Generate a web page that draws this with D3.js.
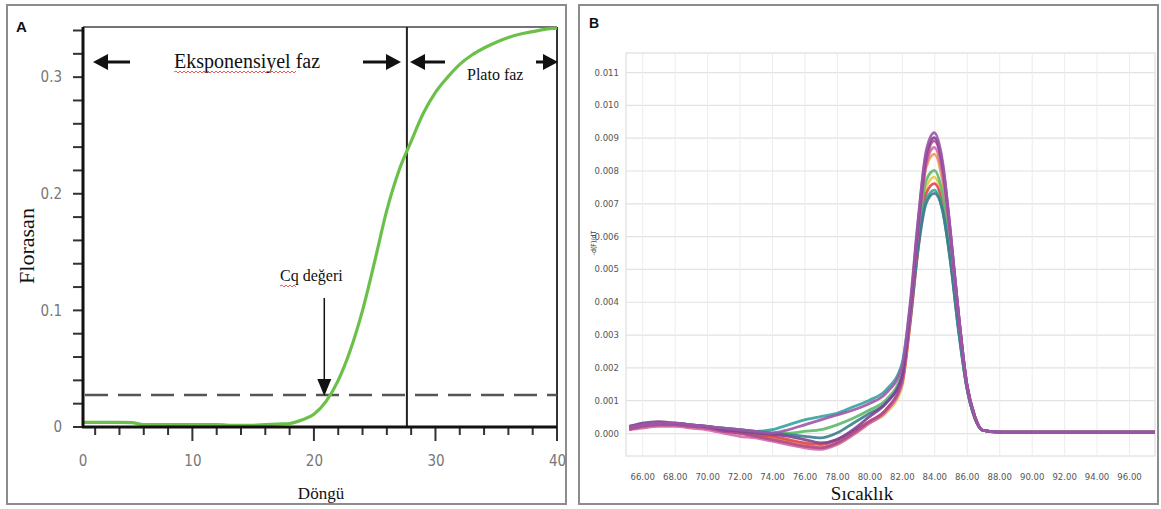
<!DOCTYPE html>
<html>
<head>
<meta charset="utf-8">
<script src="https://cdn.jsdelivr.net/npm/d3@7"></script>
<style>
  body { margin: 0; background: #fff; }
  svg { display: block; }
</style>
</head>
<body>
<div id="chart"></div>
<script>
// ---- panel A : amplification curve (Florasan vs Döngü)
var cycles = [1, 2, 3, 4, 5, 6, 7, 8, 9, 10, 11, 12, 13, 14, 15, 16, 17, 18, 19, 20,
  21, 22, 23, 24, 25, 26, 27, 28, 29, 30, 31, 32, 33, 34, 35, 36, 37, 38, 39, 40];
var fluorescence = [0.004, 0.004, 0.004, 0.004, 0.0038, 0.002, 0.002, 0.002, 0.002, 0.002,
  0.002, 0.002, 0.0015, 0.0015, 0.0015, 0.002, 0.0025, 0.003, 0.006, 0.011,
  0.022, 0.04, 0.066, 0.1, 0.142, 0.186, 0.22, 0.245, 0.269, 0.287,
  0.3, 0.311, 0.319, 0.325, 0.33, 0.334, 0.337, 0.339, 0.341, 0.342];
var threshold = 0.0274;
var phaseBoundary = 27.65;   // cycle of the vertical separator
var cqCycle = 21.1;
var yLabelsA = [0, 0.1, 0.2, 0.3];
var xLabelsA = [10, 20, 30, 40];

// ---- panel B : melt curves (-d(F)/dT, in 1e-3 units, vs Sıcaklık)
var temps = [65.2, 66, 67, 68, 69, 70, 71, 72, 73, 74, 75, 76, 77, 78, 79, 80, 81, 82,
  82.5, 83, 83.5, 84, 84.5, 85, 85.5, 86, 86.5, 87, 88, 90, 94, 97.6];
var meltYellow = [0.15, 0.2, 0.25, 0.25, 0.2, 0.15, 0.05, 0, -0.05, -0.15, -0.25, -0.35, -0.45, -0.35, -0.05, 0.3, 0.6, 1.4,
  3.3, 5.7, 7.5, 7.8, 7.1, 5.4, 3.3, 1.4, 0.45, 0.08, 0.03, 0.03, 0.03, 0.03];
var meltOrange = [0.15, 0.2, 0.25, 0.25, 0.2, 0.15, 0.05, 0, -0.1, -0.15, -0.25, -0.35, -0.45, -0.3, -0.05, 0.3, 0.65, 1.5,
  3.5, 6.1, 8.1, 8.5, 7.7, 5.8, 3.5, 1.5, 0.5, 0.08, 0.03, 0.03, 0.03, 0.03];
var meltRed = [0.15, 0.2, 0.25, 0.25, 0.2, 0.15, 0.05, 0, -0.05, -0.1, -0.2, -0.3, -0.35, -0.2, 0.05, 0.35, 0.7, 1.5,
  3.3, 5.6, 7.3, 7.6, 7.0, 5.3, 3.2, 1.4, 0.45, 0.08, 0.03, 0.03, 0.03, 0.03];
var meltGreen = [0.15, 0.2, 0.25, 0.25, 0.2, 0.15, 0.1, 0.05, 0, 0, 0, 0.05, 0.1, 0.25, 0.45, 0.7, 1.0, 1.8,
  3.6, 6.0, 7.7, 8.0, 7.3, 5.5, 3.3, 1.4, 0.45, 0.08, 0.03, 0.03, 0.03, 0.03];
var meltTeal = [0.2, 0.25, 0.3, 0.3, 0.25, 0.2, 0.15, 0.1, 0.05, 0.1, 0.25, 0.4, 0.5, 0.6, 0.8, 1.0, 1.3, 2.1,
  3.8, 5.8, 7.1, 7.4, 6.8, 5.2, 3.1, 1.4, 0.45, 0.08, 0.03, 0.03, 0.03, 0.03];
var meltDarkTeal = [0.2, 0.25, 0.3, 0.3, 0.25, 0.2, 0.15, 0.1, 0.05, 0, -0.05, -0.1, -0.15, 0, 0.3, 0.6, 0.9, 1.7,
  3.4, 5.6, 7.0, 7.3, 6.8, 5.2, 3.1, 1.4, 0.45, 0.08, 0.03, 0.03, 0.03, 0.03];
var meltPink = [0.1, 0.15, 0.2, 0.2, 0.15, 0.1, 0, -0.1, -0.15, -0.25, -0.35, -0.45, -0.5, -0.35, -0.05, 0.3, 0.65, 1.5,
  3.5, 6.2, 8.2, 8.7, 7.9, 5.9, 3.5, 1.5, 0.5, 0.08, 0.03, 0.03, 0.03, 0.03];
var meltMagenta = [0.1, 0.2, 0.25, 0.25, 0.2, 0.15, 0.05, 0, -0.1, -0.2, -0.3, -0.4, -0.45, -0.3, 0, 0.35, 0.7, 1.6,
  3.6, 6.2, 8.3, 8.9, 8.1, 6.0, 3.6, 1.5, 0.5, 0.08, 0.03, 0.03, 0.03, 0.03];
var meltViolet = [0.2, 0.3, 0.35, 0.3, 0.25, 0.2, 0.1, 0.05, 0, -0.05, -0.1, -0.2, -0.3, -0.2, 0.1, 0.5, 0.9, 1.7,
  3.7, 6.4, 8.5, 9.0, 8.2, 6.1, 3.6, 1.5, 0.5, 0.08, 0.03, 0.03, 0.03, 0.03];
var meltPurple = [0.2, 0.25, 0.3, 0.3, 0.25, 0.2, 0.15, 0.1, 0.05, 0, 0.1, 0.25, 0.4, 0.55, 0.7, 0.9, 1.2, 2.0,
  3.9, 6.5, 8.6, 9.15, 8.3, 6.1, 3.6, 1.5, 0.5, 0.08, 0.03, 0.03, 0.03, 0.03];
var yTicksB = [0, 1, 2, 3, 4, 5, 6, 7, 8, 9, 10, 11];
var xTicksB = [66, 68, 70, 72, 74, 76, 78, 80, 82, 84, 86, 88, 90, 92, 94, 96];

var meltSeries = [
  {values: meltYellow, color: '#e8c64a'},
  {values: meltOrange, color: '#f09a48'},
  {values: meltRed, color: '#e0474c'},
  {values: meltGreen, color: '#5db96a'},
  {values: meltTeal, color: '#35a3a0'},
  {values: meltDarkTeal, color: '#3b7d8c'},
  {values: meltPink, color: '#d46aa8'},
  {values: meltMagenta, color: '#b04a8e'},
  {values: meltViolet, color: '#7e4396'},
  {values: meltPurple, color: '#9d56a8'}
];

var svg = d3.select('#chart').append('svg')
  .attr('width', 1161)
  .attr('height', 509);

var serif = '"Liberation Serif", "Times New Roman", serif';
var narrow = '"Liberation Sans Narrow", "DejaVu Sans Condensed", "Liberation Sans", sans-serif';

// outer panel borders
svg.append('rect').attr('x', 7).attr('y', 5).attr('width', 559).attr('height', 499)
  .attr('fill', 'none').attr('stroke', '#8c8c8c').attr('stroke-width', 2);
svg.append('rect').attr('x', 579).attr('y', 5).attr('width', 579).attr('height', 499)
  .attr('fill', 'none').attr('stroke', '#8c8c8c').attr('stroke-width', 2);

// ================= panel A =================
var xA = d3.scaleLinear().domain([1, 40]).range([83, 557]);
var yA = d3.scaleLinear().domain([0, 0.343]).range([427, 27]);
var gA = svg.append('g');

// tick marks (every 0.02 on y, every 2 cycles on x)
var yTickVals = d3.range(0, 0.345, 0.02);
var xTickVals = d3.range(2, 41, 2);
gA.selectAll('line.ytick')
  .data(yTickVals)
  .enter()
  .append('line')
  .classed('ytick', true)
  .attr('x1', xA(1) - 10).attr('x2', xA(1))
  .attr('y1', function(d) { return yA(d); })
  .attr('y2', function(d) { return yA(d); })
  .attr('stroke', '#333').attr('stroke-width', 2);
gA.selectAll('line.xtick')
  .data(xTickVals)
  .enter()
  .append('line')
  .classed('xtick', true)
  .attr('x1', function(d) { return xA(d); })
  .attr('x2', function(d) { return xA(d); })
  .attr('y1', yA(0))
  .attr('y2', function(d) { return yA(0) + (d % 10 == 0 ? 14 : 8); })
  .attr('stroke', '#333').attr('stroke-width', 2);

// labels
var yLabelAxis = d3.axisLeft(yA).tickValues(yLabelsA).tickSize(0).tickPadding(21)
  .tickFormat(function(d) { return d == 0 ? '0' : d3.format('.1f')(d); });
gA.append('g').attr('transform', 'translate(83,0)').call(yLabelAxis)
  .call(function(g) { g.select('.domain').remove(); })
  .selectAll('text').attr('font-family', narrow).attr('font-size', 15).attr('fill', '#777');

var xLabelAxis = d3.axisBottom(xA).tickValues(xLabelsA).tickSize(0).tickPadding(28);
gA.append('g').attr('transform', 'translate(0,427)').call(xLabelAxis)
  .call(function(g) { g.select('.domain').remove(); })
  .selectAll('text').attr('font-family', narrow).attr('font-size', 15).attr('fill', '#777');
// the original figure prints "0" under the left edge of the axis
gA.append('text')
  .attr('x', xA(1)).attr('y', 427 + 28).attr('dy', '0.71em')
  .attr('text-anchor', 'middle')
  .attr('font-family', narrow).attr('font-size', 15).attr('fill', '#777')
  .text('0');

// frame
gA.append('line').attr('x1', 83).attr('x2', 557).attr('y1', 27).attr('y2', 27)
  .attr('stroke', '#444').attr('stroke-width', 1.5);
gA.append('line').attr('x1', 557).attr('x2', 557).attr('y1', 27).attr('y2', 427)
  .attr('stroke', '#333').attr('stroke-width', 2);

// threshold line
gA.append('line')
  .attr('x1', xA(1) + 2).attr('x2', xA(40))
  .attr('y1', yA(threshold)).attr('y2', yA(threshold))
  .attr('stroke', '#555').attr('stroke-width', 2.5)
  .attr('stroke-dasharray', '23,10');

// phase boundary
gA.append('line')
  .attr('x1', xA(phaseBoundary)).attr('x2', xA(phaseBoundary))
  .attr('y1', 27).attr('y2', 427)
  .attr('stroke', '#222').attr('stroke-width', 2);

// amplification curve
var lineA = d3.line()
  .x(function(d, i) { return xA(cycles[i]); })
  .y(function(d) { return yA(d); })
  .curve(d3.curveMonotoneX);
gA.append('path').datum(fluorescence)
  .attr('d', lineA)
  .attr('fill', 'none')
  .attr('stroke', '#6cc04a')
  .attr('stroke-width', 3.2);

// axes lines on top
gA.append('line').attr('x1', 83).attr('x2', 83).attr('y1', 27).attr('y2', 428)
  .attr('stroke', '#111').attr('stroke-width', 3);
gA.append('line').attr('x1', 82).attr('x2', 557).attr('y1', 427).attr('y2', 427)
  .attr('stroke', '#111').attr('stroke-width', 3);

// arrows
function hArrow(g, xTail, xTip, y) {
  var dir = xTip > xTail ? 1 : -1;
  var headLen = 15;
  g.append('line').attr('x1', xTail).attr('x2', xTip - dir * headLen)
    .attr('y1', y).attr('y2', y).attr('stroke', '#111').attr('stroke-width', 3);
  g.append('path')
    .attr('d', 'M' + xTip + ',' + y + 'L' + (xTip - dir * headLen) + ',' + (y - 8) +
      'L' + (xTip - dir * headLen) + ',' + (y + 8) + 'Z')
    .attr('fill', '#111');
}
var arrowY = 62;
hArrow(gA, 130, 93, arrowY);
hArrow(gA, 363, 401, arrowY);
hArrow(gA, 445, 410, arrowY);
hArrow(gA, 536, 558, arrowY);

// Cq arrow
var cqX = xA(cqCycle) - 3;
gA.append('line').attr('x1', cqX).attr('x2', cqX).attr('y1', 298).attr('y2', yA(threshold) - 14)
  .attr('stroke', '#111').attr('stroke-width', 1.5);
gA.append('path')
  .attr('d', 'M' + cqX + ',' + (yA(threshold) + 1) + 'L' + (cqX - 7) + ',' + (yA(threshold) - 16) +
    'L' + (cqX + 7) + ',' + (yA(threshold) - 16) + 'Z')
  .attr('fill', '#111');

// annotation texts
function wavy(g, x0, x1, y) {
  var d = 'M' + x0 + ',' + y;
  var up = true;
  for (var x = x0 + 2; x <= x1; x += 2) {
    d += 'L' + x + ',' + (y + (up ? -1 : 1));
    up = !up;
  }
  g.append('path').attr('d', d).attr('fill', 'none')
    .attr('stroke', '#e03030').attr('stroke-width', 0.8);
}
gA.append('text').attr('x', 174).attr('y', 68)
  .attr('font-family', serif).attr('font-size', 20).attr('fill', '#111')
  .text('Eksponensiyel faz');
wavy(gA, 174, 296, 72);
gA.append('text').attr('x', 467).attr('y', 80)
  .attr('font-family', serif).attr('font-size', 16).attr('fill', '#111')
  .text('Plato faz');
gA.append('text').attr('x', 280).attr('y', 281)
  .attr('font-family', serif).attr('font-size', 16).attr('fill', '#111')
  .text('Cq değeri');
wavy(gA, 280, 297, 286);

gA.append('text').attr('x', 321).attr('y', 499)
  .attr('text-anchor', 'middle')
  .attr('font-family', serif).attr('font-size', 17).attr('fill', '#111')
  .text('Döngü');
gA.append('text')
  .attr('transform', 'translate(34,246) rotate(-90)')
  .attr('text-anchor', 'middle')
  .attr('font-family', serif).attr('font-size', 22).attr('fill', '#111')
  .text('Florasan');
gA.append('text').attr('x', 16).attr('y', 32)
  .attr('font-family', '"Liberation Sans", sans-serif').attr('font-size', 15)
  .attr('font-weight', 'bold').attr('fill', '#111')
  .text('A');

// ================= panel B =================
var xB = d3.scaleLinear().domain([65, 97.6]).range([626, 1155]);
var yB = d3.scaleLinear().domain([-0.7, 11.58]).range([456, 53]);
var gB = svg.append('g');

gB.append('rect').attr('x', 626).attr('y', 53).attr('width', 529).attr('height', 403)
  .attr('fill', 'none').attr('stroke', '#d8d8d8').attr('stroke-width', 1);

var yGrid = d3.axisLeft(yB).tickValues(yTicksB).tickSize(-529).tickPadding(7)
  .tickFormat(function(d) { return d3.format('.3f')(d / 1000); });
gB.append('g').attr('transform', 'translate(626,0)').call(yGrid)
  .call(function(g) {
    g.select('.domain').remove();
    g.selectAll('line').attr('stroke', '#e2e2e2').attr('stroke-width', 1.2);
    g.selectAll('text').attr('font-family', narrow).attr('font-size', 9.5).attr('fill', '#555');
  });

var xGrid = d3.axisBottom(xB).tickValues(xTicksB).tickSize(-403).tickPadding(17)
  .tickFormat(d3.format('.2f'));
gB.append('g').attr('transform', 'translate(0,456)').call(xGrid)
  .call(function(g) {
    g.select('.domain').remove();
    g.selectAll('line').attr('stroke', '#ececec').attr('stroke-width', 1);
    g.selectAll('text').attr('font-family', narrow).attr('font-size', 9.5).attr('fill', '#555');
  });

var lineB = d3.line()
  .x(function(d, i) { return xB(temps[i]); })
  .y(function(d) { return yB(d); })
  .curve(d3.curveMonotoneX);

gB.selectAll('path.melt')
  .data(meltSeries)
  .enter()
  .append('path')
  .classed('melt', true)
  .attr('d', function(d) { return lineB(d.values); })
  .attr('fill', 'none')
  .attr('stroke', function(d) { return d.color; })
  .attr('stroke-width', 2.8)
  .attr('stroke-opacity', 0.9);

gB.append('text')
  .attr('transform', 'translate(596,243) rotate(-90)')
  .attr('text-anchor', 'middle')
  .attr('font-family', narrow).attr('font-size', 7).attr('fill', '#444')
  .text('-d(F)/dT');
gB.append('text').attr('x', 862).attr('y', 500)
  .attr('text-anchor', 'middle')
  .attr('font-family', serif).attr('font-size', 19).attr('fill', '#111')
  .text('Sıcaklık');
gB.append('text').attr('x', 589).attr('y', 28)
  .attr('font-family', '"Liberation Sans", sans-serif').attr('font-size', 14)
  .attr('font-weight', 'bold').attr('fill', '#111')
  .text('B');
</script>
</body>
</html>
